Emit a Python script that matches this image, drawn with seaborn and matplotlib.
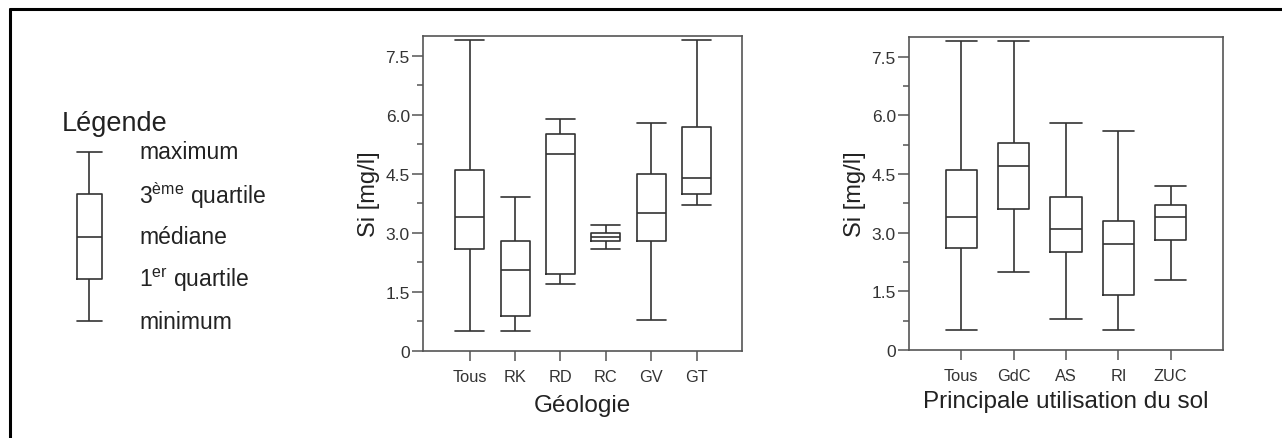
import matplotlib
matplotlib.use("Agg")
import matplotlib.pyplot as plt
from matplotlib.lines import Line2D
from matplotlib.ticker import FixedLocator, MultipleLocator
import seaborn as sns
import pandas as pd

# --- data (five-number summaries) ---
geo_cats = ['Tous', 'RK', 'RD', 'RC', 'GV', 'GT']
geo_min = [0.5, 0.5, 1.7, 2.6, 0.8, 3.7]
geo_q1 = [2.6, 0.9, 1.95, 2.8, 2.8, 4.0]
geo_med = [3.4, 2.05, 5.0, 2.9, 3.5, 4.4]
geo_q3 = [4.6, 2.8, 5.5, 3.0, 4.5, 5.7]
geo_max = [7.9, 3.9, 5.9, 3.2, 5.8, 7.9]

sol_cats = ['Tous', 'GdC', 'AS', 'RI', 'ZUC']
sol_min = [0.5, 2.0, 0.8, 0.5, 1.8]
sol_q1 = [2.6, 3.6, 2.5, 1.4, 2.8]
sol_med = [3.4, 4.7, 3.1, 2.7, 3.4]
sol_q3 = [4.6, 5.3, 3.9, 3.3, 3.7]
sol_max = [7.9, 7.9, 5.8, 5.6, 4.2]

ytick_vals = [0, 1.5, 3.0, 4.5, 6.0, 7.5]
ytick_labels = ['0', '1.5', '3.0', '4.5', '6.0', '7.5']

legend_values = [0, 1, 2, 3, 4]
legend_labels = ['minimum', r'1$^{\mathrm{er}}$ quartile', 'médiane',
                 r'3$^{\mathrm{ème}}$ quartile', 'maximum']

LINE = '#333333'
TXT = '#333333'


def five_num_df(cats, mn, q1, med, q3, mx):
    # 5 points per group -> linear percentiles give exactly q1 / median / q3
    rows = []
    for i, c in enumerate(cats):
        for v in (mn[i], q1[i], med[i], q3[i], mx[i]):
            rows.append({'cat': c, 'val': v})
    return pd.DataFrame(rows)


sns.set_style('ticks')
plt.rcParams['font.family'] = ['Liberation Sans', 'DejaVu Sans']
plt.rcParams['mathtext.fontset'] = 'custom'
plt.rcParams['mathtext.rm'] = 'Liberation Sans'
plt.rcParams['mathtext.it'] = 'Liberation Sans'

W, H = 1282, 439
fig = plt.figure(figsize=(W / 100, H / 100), dpi=100)


def px_axes(x0, y0, x1, y1):
    return fig.add_axes([x0 / W, 1 - y1 / H, (x1 - x0) / W, (y1 - y0) / H])


def style_axes(ax, xlabel, xlim, xlabelpad):
    ax.set_ylim(0, 8.0)
    ax.set_xlim(*xlim)
    ax.yaxis.set_major_locator(FixedLocator(ytick_vals))
    ax.set_yticklabels(ytick_labels)
    ax.yaxis.set_minor_locator(MultipleLocator(0.75))
    ax.tick_params(axis='y', which='major', length=8, width=1.1, pad=1.5,
                   labelsize=12.5, colors='#555555', labelcolor=TXT)
    ax.tick_params(axis='y', which='minor', length=4, width=1.1, colors='#555555')
    ax.tick_params(axis='x', which='major', length=7, width=1.1, pad=6,
                   labelsize=11.8, colors='#555555', labelcolor=TXT)
    for s in ax.spines.values():
        s.set_visible(True)
        s.set_color('#555555')
        s.set_linewidth(1.2)
    ax.set_ylabel('Si [mg/l]', fontsize=17, color='#222222', labelpad=4)
    ax.set_xlabel(xlabel, fontsize=17.5, color='#222222', labelpad=xlabelpad)


box_kw = dict(whis=(0, 100), fill=False, color=LINE, linewidth=1.2)

# Géologie
ax1 = px_axes(423, 37, 742, 352)
df1 = five_num_df(geo_cats, geo_min, geo_q1, geo_med, geo_q3, geo_max)
sns.boxplot(data=df1, x='cat', y='val', width=0.64, capwidths=0.64, ax=ax1, **box_kw)
style_axes(ax1, 'Géologie', (-1.03, 6.0), 7)

# Principale utilisation du sol
ax2 = px_axes(909, 38, 1223, 351)
df2 = five_num_df(sol_cats, sol_min, sol_q1, sol_med, sol_q3, sol_max)
sns.boxplot(data=df2, x='cat', y='val', width=0.6, capwidths=0.6, ax=ax2, **box_kw)
style_axes(ax2, 'Principale utilisation du sol', (-1.0, 5.0), 5)

# legend schematic
axl = px_axes(40, 100, 300, 345)
sns.boxplot(y=legend_values, width=0.5, capwidths=0.5, ax=axl, **box_kw)
axl.set_xlim(-0.98, 4.22)
axl.set_ylim(-0.544, 5.254)
axl.axis('off')
for v, lab in zip(legend_values, legend_labels):
    axl.text(1.0, v, lab, fontsize=16.5, color='#222222', va='center', ha='left')
axl.text(-0.54, 4.69, 'Légende', fontsize=19.5, color='#222222', va='center', ha='left')

# outer frame (only top and left edges are visible in the crop)
fig.add_artist(Line2D([10 / W, 10 / W], [0, 1 - 10 / H], transform=fig.transFigure,
                      color='black', linewidth=2.2))
fig.add_artist(Line2D([10 / W, 1], [1 - 10 / H, 1 - 10 / H], transform=fig.transFigure,
                      color='black', linewidth=2.2))

fig.savefig('out.png', dpi=100)
